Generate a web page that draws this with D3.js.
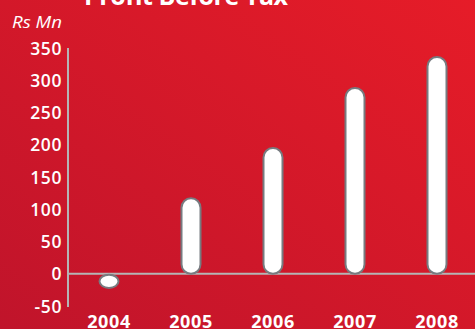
<!DOCTYPE html>
<html>
<head>
<meta charset="utf-8">
<script src="https://cdn.jsdelivr.net/npm/d3@7"></script>
<style>
  body { margin: 0; overflow: hidden; }
  text { font-family: "Open Sans", sans-serif; fill: #fff; }
</style>
</head>
<body>
<svg id="chart" width="475" height="329"></svg>
<script>
// data
let years = ["2004", "2005", "2006", "2007", "2008"];
let profit = [-22, 117, 195, 288, 336];
let yTicks = [-50, 0, 50, 100, 150, 200, 250, 300, 350];

let svg = d3.select("#chart");
let width = 475, height = 329;

// background gradient
let defs = svg.append("defs");
let grad = defs.append("linearGradient")
    .attr("id", "bg")
    .attr("x1", "0%").attr("y1", "100%")
    .attr("x2", "100%").attr("y2", "0%");
grad.append("stop").attr("offset", "0%").attr("stop-color", "#c0142b");
grad.append("stop").attr("offset", "100%").attr("stop-color", "#e61c28");

svg.append("rect")
    .attr("width", width).attr("height", height)
    .attr("fill", "url(#bg)");

let x = d3.scaleBand()
    .domain(years)
    .range([68, 478])
    .paddingInner(0)
    .paddingOuter(0);

let y = d3.scaleLinear()
    .domain([-50, 350])
    .range([306, 48]);

// title (cut off at top, as in the original)
svg.append("text")
    .attr("x", 186).attr("y", 5)
    .attr("text-anchor", "middle")
    .style("font-size", "25px")
    .style("font-weight", "bold")
    .attr("textLength", 204)
    .text("Profit Before Tax");

svg.append("text")
    .attr("x", 12).attr("y", 28)
    .style("font-size", "17px")
    .style("font-style", "italic")
    .attr("textLength", 50)
    .attr("lengthAdjust", "spacingAndGlyphs")
    .text("Rs Mn");

// y axis labels
svg.append("g").selectAll("text")
    .data(yTicks)
    .enter().append("text")
      .attr("x", 62)
      .attr("y", function(d) { return y(d) + 6.5; })
      .attr("text-anchor", "end")
      .style("font-size", "17.5px")
      .style("font-weight", "600")
      .style("letter-spacing", "0.6px")
      .text(function(d) { return d; });

// axis lines
svg.append("line")
    .attr("x1", 68).attr("x2", 68)
    .attr("y1", y(350)).attr("y2", y(-50) + 1)
    .style("stroke", "#b5b5b5")
    .style("stroke-width", 2);

svg.append("line")
    .attr("x1", 68).attr("x2", width)
    .attr("y1", y(0)).attr("y2", y(0))
    .style("stroke", "#b5b5b5")
    .style("stroke-width", 2);

// bars
let bw = 19;
svg.append("g").selectAll("rect")
    .data(profit)
    .enter().append("rect")
      .attr("x", function(d, i) { return x(years[i]) + x.bandwidth() / 2 - bw / 2; })
      .attr("y", function(d) { return d >= 0 ? y(d) : y(0) + 1; })
      .attr("width", bw)
      .attr("height", function(d) { return d >= 0 ? y(0) - y(d) : y(d) - y(0) - 1; })
      .attr("rx", bw / 2)
      .attr("ry", function(d) { return Math.min(bw / 2, Math.abs(y(d) - y(0)) / 2); })
      .style("fill", "#fff")
      .style("stroke", "#777b80")
      .style("stroke-width", 2);

// x labels
svg.append("g").selectAll("text")
    .data(years)
    .enter().append("text")
      .attr("x", function(d) { return x(d) + x.bandwidth() / 2; })
      .attr("y", 328)
      .attr("text-anchor", "middle")
      .style("font-size", "18px")
      .style("font-weight", "bold")
      .style("letter-spacing", "0.6px")
      .text(function(d) { return d; });
</script>
</body>
</html>
